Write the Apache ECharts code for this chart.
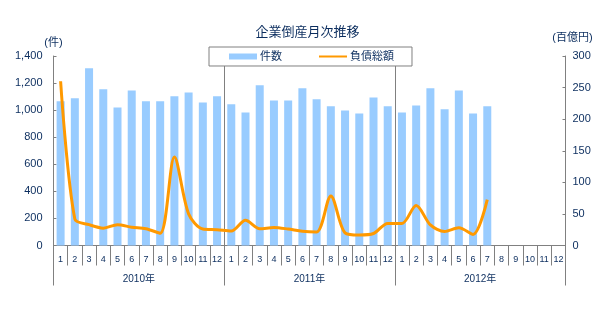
<!DOCTYPE html>
<html>
<head>
<meta charset="utf-8">
<script src="https://cdn.jsdelivr.net/npm/echarts@6/dist/echarts.min.js"></script>
<style>
  html, body { margin: 0; background: #fff; }
  #chart { width: 615px; height: 310px; }
</style>
</head>
<body>
<div id="chart"></div>
<script>
"use strict";

// 企業倒産月次推移 2010-2012
const YEARS = ["2010年", "2011年", "2012年"];
const MONTHS = [
  "1", "2", "3", "4", "5", "6", "7", "8", "9", "10", "11", "12",
  "1", "2", "3", "4", "5", "6", "7", "8", "9", "10", "11", "12",
  "1", "2", "3", "4", "5", "6", "7", "8", "9", "10", "11", "12"
];
// 件数 (左軸)
const COUNT = [
  1065, 1087, 1309, 1154, 1020, 1146, 1065, 1065, 1102, 1131, 1057, 1102,
  1043, 983, 1183, 1072, 1072, 1161, 1080, 1028, 998, 976, 1094, 1028,
  983, 1035, 1161, 1006, 1146, 976, 1028, null, null, null, null, null
];
// 負債総額 (右軸, 百億円)
const DEBT = [
  260, 42, 33, 27.5, 33, 29, 26.5, 19.5, 140, 50, 26, 25,
  23, 40, 26.5, 28.5, 26, 22.5, 21.5, 78.5, 20, 16.5, 19, 35,
  35, 63.5, 32.5, 22, 28, 17.5, 72.5, "-", "-", "-", "-", "-"
];
const LEFT_TICKS = { min: 0, max: 1400, interval: 200 };
const RIGHT_TICKS = { min: 0, max: 300, interval: 50 };

const INK = "#0b2d5e";
const GRAY = "#808080";
const FONT = "Liberation Sans, Noto Sans CJK JP, sans-serif";

const chart = echarts.init(document.getElementById("chart"), null, { renderer: "canvas" });
chart.setOption({
  animation: false,
  textStyle: { fontFamily: FONT, color: INK },
  title: {
    text: "企業倒産月次推移", left: "center", top: 20,
    textStyle: { fontSize: 13, fontWeight: "normal", color: INK, fontFamily: "Noto Sans CJK JP" }
  },
  legend: {
    left: 209, top: 47, width: 199,
    padding: [4, 18, 4, 20], itemGap: 36,
    backgroundColor: "#fff", borderColor: GRAY, borderWidth: 1,
    itemWidth: 28, itemHeight: 6,
    textStyle: { fontSize: 11, color: INK, padding: [0, 0, 0, -2] },
    data: [
      { name: "件数", icon: "rect" },
      { name: "負債総額", itemStyle: { opacity: 0 } }
    ]
  },
  grid: { left: 53.5, right: 49.5, top: 56, bottom: 64.5 },
  xAxis: [{
    type: "category", data: MONTHS, position: "bottom",
    axisLine: { show: true, lineStyle: { color: GRAY } },
    axisTick: { show: true, interval: 0, length: 20, lineStyle: { color: GRAY } },
    axisLabel: { interval: 0, margin: 10, fontSize: 9, color: INK }
  }, {
    type: "category", data: YEARS, position: "bottom",
    axisLine: { show: false },
    axisTick: { show: true, interval: 0, length: 40, lineStyle: { color: GRAY } },
    axisLabel: { interval: 0, margin: 29, fontSize: 10, color: INK },
    splitLine: { show: true, interval: 0, lineStyle: { color: GRAY, width: 1 } }
  }],
  yAxis: [{
    type: "value", ...LEFT_TICKS,
    name: "(件)", nameLocation: "end", nameGap: 8,
    nameTextStyle: { fontSize: 11, color: INK },
    axisLine: { show: true, lineStyle: { color: GRAY } },
    axisTick: { show: true, inside: true, length: 3, lineStyle: { color: GRAY } },
    axisLabel: { margin: 11, fontSize: 11, color: INK,
      formatter: v => v.toLocaleString("en-US") },
    splitLine: { show: false }
  }, {
    type: "value", ...RIGHT_TICKS, position: "right",
    name: "(百億円)", nameLocation: "end", nameGap: 13,
    nameTextStyle: { fontSize: 11, color: INK, padding: [0, 0, 0, 14] },
    axisLine: { show: true, lineStyle: { color: GRAY } },
    axisTick: { show: true, inside: true, length: 3, lineStyle: { color: GRAY } },
    axisLabel: { margin: 7, fontSize: 11, color: INK },
    splitLine: { show: false }
  }],
  series: [{
    name: "件数", type: "bar", xAxisIndex: 0, yAxisIndex: 0,
    data: COUNT, barWidth: 8,
    itemStyle: { color: "#99ccff" }
  }, {
    name: "負債総額", type: "line", xAxisIndex: 0, yAxisIndex: 1,
    data: DEBT, smooth: 0.3, symbol: "none",
    lineStyle: { color: "#ff9900", width: 3 },
    itemStyle: { color: "#ff9900" }
  }]
});
</script>
</body>
</html>
